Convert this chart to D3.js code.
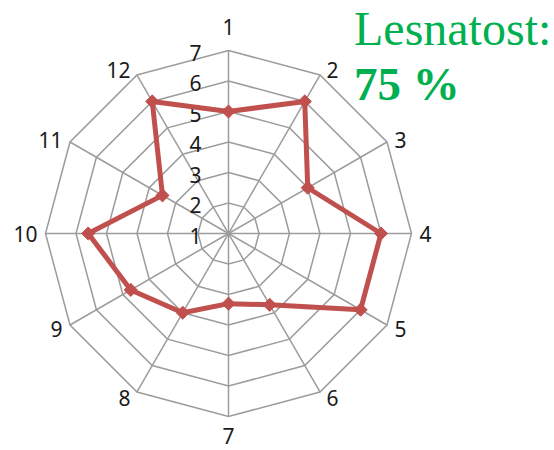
<!DOCTYPE html>
<html>
<head>
<meta charset="utf-8">
<script src="https://cdn.jsdelivr.net/npm/d3@7"></script>
<style>
  html, body { margin: 0; padding: 0; background: #fff; }
  svg { display: block; }
</style>
</head>
<body>
<svg id="chart" width="554" height="450"></svg>
<script>
// ---- data ----
const categories = ["1","2","3","4","5","6","7","8","9","10","11","12"];
const values = [5, 6, 4, 6, 6, 3.7, 3.3, 4, 4.7, 5.6, 3.5, 6];
const scaleTicks = [1, 2, 3, 4, 5, 6, 7];
const titleLine1 = "Lesnatost:";
const titleLine2 = "75 %";

// ---- layout ----
const svg = d3.select("#chart");
const cx = 228.5, cy = 233.5, R = 183;
const gridColor = "#9c9c9c";
const seriesColor = "#c0504d";
const textColor = "#1a1a1a";
const font = "'Noto Sans', 'DejaVu Sans', sans-serif";

const r = d3.scaleLinear().domain([1, 7]).range([0, R]);
const angle = d3.scaleBand().domain(categories).range([0, 2 * Math.PI]).align(0).paddingInner(0).paddingOuter(0);
const ang = c => angle(c); // clockwise from top

const pt = (c, v) => {
  const a = ang(c);
  return [cx + r(v) * Math.sin(a), cy - r(v) * Math.cos(a)];
};

const g = svg.append("g");

// rings
scaleTicks.filter(t => t > 1).forEach(t => {
  g.append("path")
    .attr("d", d3.line()(categories.map(c => pt(c, t))) + "Z")
    .attr("fill", "none")
    .attr("stroke", gridColor)
    .attr("stroke-width", 1.5);
});

// spokes
categories.forEach(c => {
  const [x, y] = pt(c, 7);
  g.append("line")
    .attr("x1", cx).attr("y1", cy).attr("x2", x).attr("y2", y)
    .attr("stroke", gridColor)
    .attr("stroke-width", 1.5);
});

// scale labels
g.selectAll("text.tick").data(scaleTicks).join("text")
  .attr("class", "tick")
  .attr("x", cx - 27)
  .attr("y", d => cy - r(d) + 2.5)
  .attr("dy", "0.36em")
  .attr("text-anchor", "end")
  .attr("font-family", font)
  .attr("font-size", 21)
  .attr("fill", textColor)
  .text(d => d);

// series line
const linePts = categories.map((c, i) => pt(c, values[i]));
g.append("path")
  .attr("d", d3.line()(linePts) + "Z")
  .attr("fill", "none")
  .attr("stroke", seriesColor)
  .attr("stroke-width", 5)
  .attr("stroke-linejoin", "round");

// markers (diamonds)
const diamond = d3.symbol().type(d3.symbolDiamond2).size(110);
g.selectAll("path.marker").data(linePts).join("path")
  .attr("class", "marker")
  .attr("d", diamond)
  .attr("transform", d => `translate(${d[0]},${d[1]})`)
  .attr("fill", seriesColor)
  .attr("stroke", seriesColor)
  .attr("stroke-width", 1);

// category labels
categories.forEach(c => {
  const a = ang(c);
  const s = Math.sin(a), co = Math.cos(a);
  const [vx, vy] = pt(c, 7);
  let x, y, anchor;
  if (Math.abs(s) < 0.01) {
    x = vx; anchor = "middle";
    y = vy + (co > 0 ? -23 : 20);
  } else {
    const gap = 5 + 3 * Math.abs(s);
    x = vx + (s > 0 ? gap : -gap);
    anchor = s > 0 ? "start" : "end";
    y = vy - co * 6 + 1;
  }
  g.append("text")
    .attr("x", x).attr("y", y)
    .attr("dy", "0.36em")
    .attr("text-anchor", anchor)
    .attr("font-family", font)
    .attr("font-size", 21)
    .attr("fill", textColor)
    .text(c);
});

// title text
svg.append("text")
  .attr("x", 354).attr("y", 45)
  .attr("font-family", "'Liberation Serif', 'Times New Roman', serif")
  .attr("font-size", 48)
  .attr("fill", "#00b050")
  .text(titleLine1);
svg.append("text")
  .attr("x", 354).attr("y", 100)
  .attr("font-family", "'Liberation Serif', 'Times New Roman', serif")
  .attr("font-size", 47)
  .attr("font-weight", "bold")
  .attr("fill", "#00b050")
  .text(titleLine2);
</script>
</body>
</html>
